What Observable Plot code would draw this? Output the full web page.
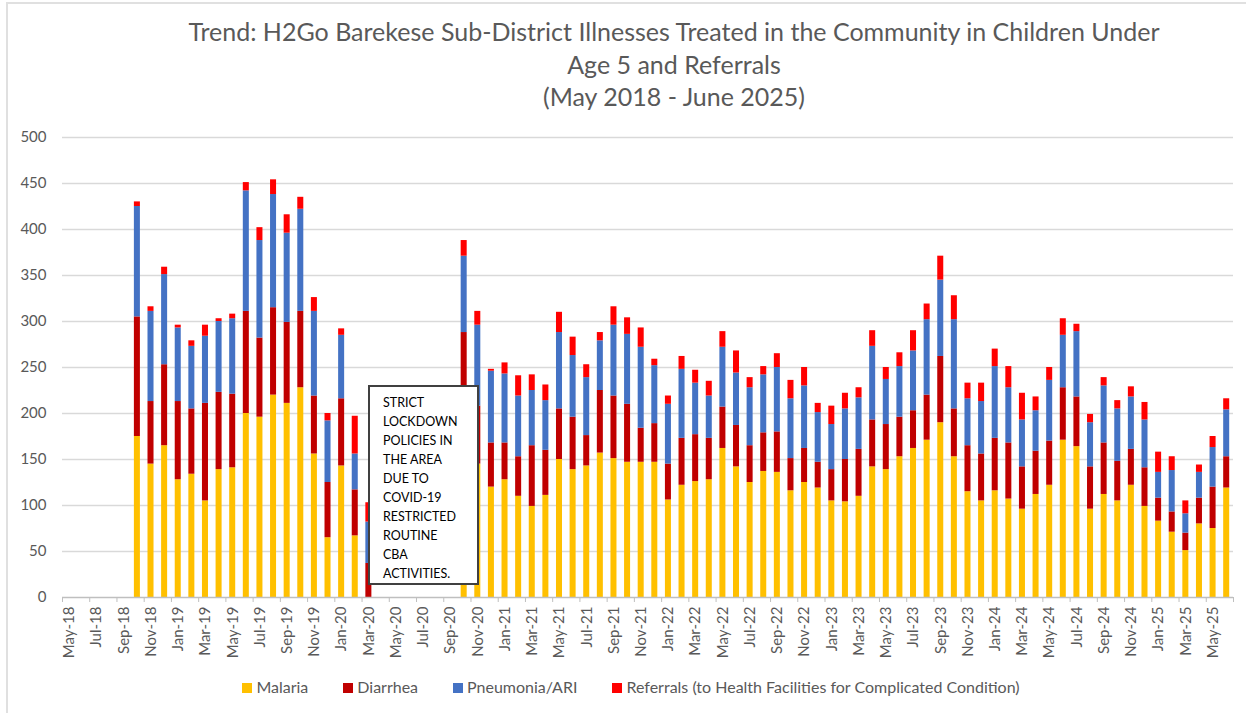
<!DOCTYPE html>
<html><head><meta charset="utf-8">
<script src="https://cdn.jsdelivr.net/npm/d3@7"></script>
<script src="https://cdn.jsdelivr.net/npm/@observablehq/plot@0.6"></script>
<style>
html,body{margin:0;padding:0;background:#fff;overflow:hidden;}
#wrap{position:relative;width:1246px;height:713px;font-family:Lato,"Open Sans",sans-serif;}
#frame{position:absolute;left:6px;top:2px;width:1240px;height:711px;border-left:2px solid #e0e0e0;border-top:2px solid #e0e0e0;box-sizing:border-box;}
#title{position:absolute;left:102px;top:15px;width:1144px;text-align:center;color:#595959;font-size:25px;line-height:32.5px;}
#chart{position:absolute;left:0;top:120px;}
#chart svg text{font-size:15px !important;font-family:Lato,"Open Sans",sans-serif;}
#note{position:absolute;left:368px;top:385px;width:107px;height:196px;border:2px solid #404040;background:#fff;box-sizing:content-box;}
#note div{padding:6px 0 0 13px;font-size:12.5px;line-height:19px;color:#000;}
#legend{position:absolute;left:0;top:677px;width:1262px;display:flex;justify-content:center;gap:35px;font-size:16px;color:#595959;}
#legend span.sw{display:inline-block;width:10px;height:10px;margin-right:4px;}
</style></head>
<body><div id="wrap">
<div id="frame"></div>
<div id="title">Trend: H2Go Barekese Sub-District Illnesses Treated in the Community in Children Under<br>Age 5 and Referrals<br>(May 2018 - June 2025)</div>
<div id="chart"></div>
<div id="note"><div>STRICT<br>LOCKDOWN<br>POLICIES IN<br>THE AREA<br>DUE TO<br>COVID-19<br>RESTRICTED<br>ROUTINE<br>CBA<br>ACTIVITIES.</div></div>
<div id="legend"></div>
</div>
<script>
const months = ["May-18","Jun-18","Jul-18","Aug-18","Sep-18","Oct-18","Nov-18","Dec-18",
"Jan-19","Feb-19","Mar-19","Apr-19","May-19","Jun-19","Jul-19","Aug-19","Sep-19","Oct-19","Nov-19","Dec-19",
"Jan-20","Feb-20","Mar-20","Apr-20","May-20","Jun-20","Jul-20","Aug-20","Sep-20","Oct-20","Nov-20","Dec-20",
"Jan-21","Feb-21","Mar-21","Apr-21","May-21","Jun-21","Jul-21","Aug-21","Sep-21","Oct-21","Nov-21","Dec-21",
"Jan-22","Feb-22","Mar-22","Apr-22","May-22","Jun-22","Jul-22","Aug-22","Sep-22","Oct-22","Nov-22","Dec-22",
"Jan-23","Feb-23","Mar-23","Apr-23","May-23","Jun-23","Jul-23","Aug-23","Sep-23","Oct-23","Nov-23","Dec-23",
"Jan-24","Feb-24","Mar-24","Apr-24","May-24","Jun-24","Jul-24","Aug-24","Sep-24","Oct-24","Nov-24","Dec-24",
"Jan-25","Feb-25","Mar-25","Apr-25","May-25","Jun-25"];

const malaria = [0,0,0,0,0,175,145,165,
128,134,105,139,141,200,196,220,211,228,156,65,
143,67,0,0,0,0,0,0,0,185,145,120,
128,110,99,111,150,139,143,157,151,147,147,147,
106,122,126,128,162,142,125,137,136,116,125,119,
105,104,110,142,139,153,162,171,190,153,115,105,
116,107,96,112,122,171,164,96,112,105,122,99,
83,71,51,80,75,119];

const diarrhea = [0,0,0,0,0,130,68,88,
85,71,106,84,80,111,86,95,88,83,63,60,
73,50,37,0,0,0,0,0,0,103,63,48,
40,43,66,49,55,57,33,68,68,63,37,42,
39,51,51,45,45,45,40,42,44,35,37,28,
34,46,51,51,49,43,41,49,72,52,50,51,
57,61,46,47,48,57,54,46,56,43,39,42,
25,22,19,28,45,34];

const pneumonia = [0,0,0,0,0,120,98,98,
80,68,73,77,82,131,106,123,97,111,92,67,
69,39,45,0,0,0,0,0,0,83,88,78,
75,66,60,54,83,67,63,54,77,76,88,63,
65,75,56,46,65,57,63,63,70,65,68,54,
49,55,56,80,49,55,65,82,83,97,51,57,
78,60,51,44,66,57,71,48,62,57,57,52,
28,45,21,28,43,51];

const referrals = [0,0,0,0,0,5,5,8,
3,6,12,3,5,9,14,16,20,13,15,8,
7,41,21,0,0,0,0,0,0,17,15,2,
12,22,17,17,22,20,14,9,20,18,21,7,
9,14,14,16,17,24,11,9,15,20,20,10,
20,17,11,17,13,15,22,17,26,26,17,20,
19,23,29,15,14,18,8,9,9,9,11,19,
22,15,14,8,12,12];

const seriesNames = ["Malaria","Diarrhea","Pneumonia/ARI","Referrals (to Health Facilities for Complicated Condition)"];
const seriesColors = ["#FFC000","#C00000","#4472C4","#FF0000"];
const yTicks = [0,50,100,150,200,250,300,350,400,450,500];

const seriesValues = [malaria, diarrhea, pneumonia, referrals];
const rows = [];
seriesValues.forEach((vals, s) => {
  vals.forEach((v, i) => rows.push({i, month: months[i], series: seriesNames[s], value: v}));
});

const n = months.length;
const boundaryTicks = d3.range(0, n + 1, 2);
const labelTicks = d3.range(0, n, 2).map(i => i + 0.5);

const chart = Plot.plot({
  width: 1246,
  height: 545,
  marginTop: 17,
  marginBottom: 68,
  marginLeft: 62,
  marginRight: 13,
  style: {fontFamily: "Lato, 'Open Sans', sans-serif", fontSize: "15px", color: "#595959", background: "transparent"},
  x: {domain: [0, n], axis: null, label: null},
  y: {domain: [0, 500], axis: null, label: null},
  color: {domain: seriesNames, range: seriesColors},
  marks: [
    Plot.ruleY(yTicks.slice(1), {stroke: "#d9d9d9", strokeWidth: 1.5}),
    Plot.axisY({ticks: yTicks, tickSize: 0, tickPadding: 16, fontSize: 15, fill: "#595959", label: null}),
    Plot.rectY(rows, {x: "i", interval: 1, y: "value", fill: "series", order: seriesNames, insetLeft: 3.8, insetRight: 3.8}),
    Plot.ruleY([0], {stroke: "#bfbfbf", strokeWidth: 1.5}),
    Plot.axisX({ticks: boundaryTicks, tickSize: 5, tickFormat: () => "", stroke: "#bfbfbf", label: null}),
    Plot.axisX({ticks: labelTicks, tickSize: 0, tickPadding: 9, tickRotate: -90, tickFormat: d => months[Math.round(d - 0.5)], fontSize: 15, fill: "#595959", label: null})
  ]
});
document.getElementById("chart").appendChild(chart);

const legend = document.getElementById("legend");
seriesNames.forEach((name, k) => {
  const item = document.createElement("div");
  item.innerHTML = `<span class="sw" style="background:${seriesColors[k]}"></span>${name}`;
  legend.appendChild(item);
});
</script>
</body></html>
